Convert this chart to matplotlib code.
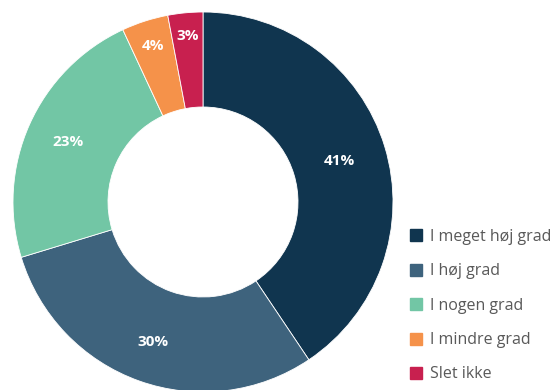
import numpy as np
import matplotlib.pyplot as plt
from matplotlib.lines import Line2D

# svar-fordeling (procent)
categories = ["I meget høj grad", "I høj grad", "I nogen grad", "I mindre grad", "Slet ikke"]
values = [41, 30, 23, 4, 3]
colors = ["#10354F", "#3E637D", "#72C6A5", "#F5924A", "#C8204F"]
label_dist = [0.75, 0.78, 0.78, 0.86, 0.88]

plt.rcParams['font.family'] = ['Open Sans', 'DejaVu Sans']

fig = plt.figure(figsize=(5.54, 3.9), dpi=100)
ax = fig.add_axes([13 / 554, -2 / 390, 380 / 554, 380 / 390])

wedges, _ = ax.pie(values, colors=colors, startangle=90, counterclock=False,
                   radius=1, wedgeprops=dict(width=0.5, linewidth=0.6, edgecolor="white"))

for w, v, d in zip(wedges, values, label_dist):
    ang = np.deg2rad((w.theta1 + w.theta2) / 2)
    ax.text(d * np.cos(ang), d * np.sin(ang), f"{v}%", ha="center", va="center",
            color="white", fontsize=11, fontweight="bold")

ax.set_xlim(-1, 1)
ax.set_ylim(-1, 1)
ax.set_aspect("equal")
ax.axis("off")

handles = [Line2D([], [], marker="s", linestyle="", markersize=8, color=c) for c in colors]
fig.legend(handles, categories, loc="upper left", bbox_to_anchor=(410 / 554, 1 - 229 / 390),
           frameon=False, fontsize=11.5, labelcolor="#595959", handlelength=0.8,
           handletextpad=0.45, labelspacing=1.15, borderpad=0, borderaxespad=0)

fig.savefig("out.png", dpi=100)
